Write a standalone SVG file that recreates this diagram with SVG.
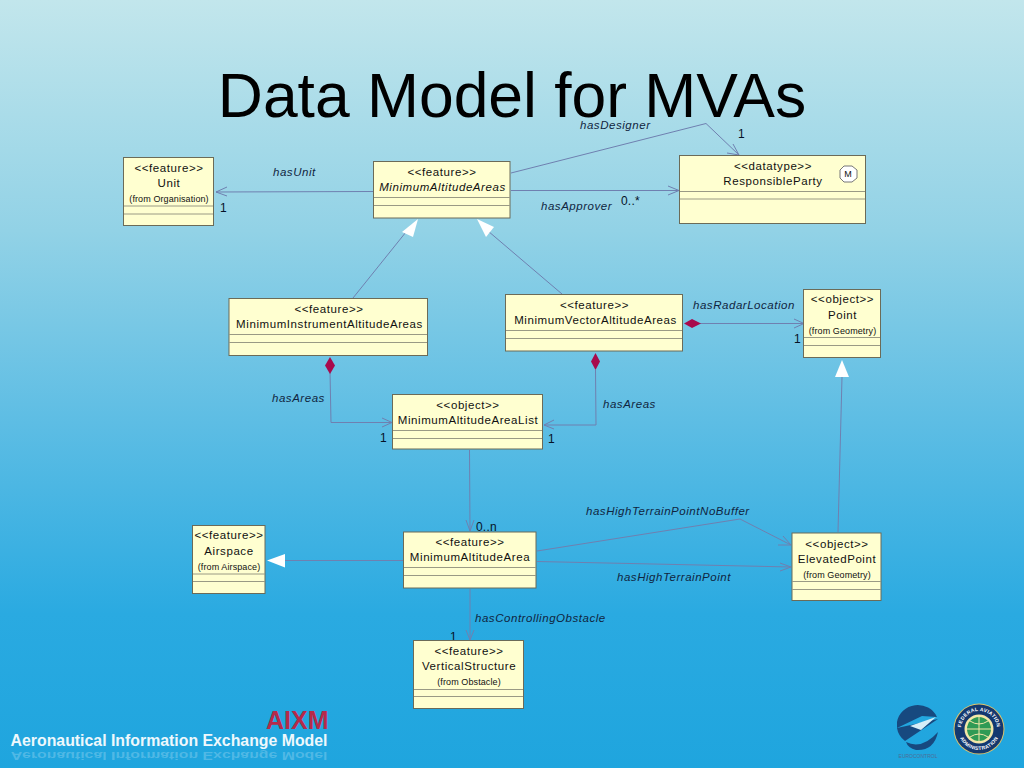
<svg xmlns="http://www.w3.org/2000/svg" width="1024" height="768" viewBox="0 0 1024 768">
<style>
text{font-family:"Liberation Sans",Arial,sans-serif;fill:#111}
.c{text-anchor:middle;font-size:11.500px;letter-spacing:.58px}
.f{text-anchor:middle;font-size:9px;letter-spacing:.1px}
.l{font-size:11.500px;font-style:italic;fill:#10253f;letter-spacing:.54px}
.m{font-size:12px;fill:#061226;letter-spacing:.2px}
.b{fill:#ffffd0;stroke:#6b6b58;stroke-width:1}
.d{stroke:#9a9a84;stroke-width:1;fill:none}
.e{fill:none;stroke:#6f80b0;stroke-width:1}
.w{fill:#fff;stroke:none}
.r{fill:#a80a4c;stroke:none}
</style>
<defs>
<linearGradient id="bg" x1="0" y1="0" x2="0" y2="1">
<stop offset="0" stop-color="#c2e6ec"/><stop offset=".3" stop-color="#92d2e6"/><stop offset=".55" stop-color="#5dbde4"/><stop offset=".8" stop-color="#2aaae1"/><stop offset="1" stop-color="#1fa5de"/>
</linearGradient>
<path id="ringT" d="M961 729a18 18 0 0 1 36 0"/>
<path id="ringB" d="M958 729a21 21 0 0 0 42 0"/>
</defs>
<rect width="1024" height="768" fill="url(#bg)"/>
<text x="512" y="117" text-anchor="middle" style="font-size:62.400px;fill:#000">Data Model for MVAs</text>

<g id="connectors">
<path class="e" d="M373 191.500L216 192M227 187L216 192L227 196"/>
<path class="e" d="M511 173L706 123.500L739 155M727 153L739 155L733 144"/>
<path class="e" d="M511 190.500L679 190.500M668 186L679 190.500L668 195"/>
<path class="e" d="M353 298L406 232"/>
<polygon class="w" points="418,219 413,237 402,232"/>
<path class="e" d="M562 294L488 231"/>
<polygon class="w" points="477,219 494,227 486,237"/>
<path class="e" d="M700 323.500L804 323.500M794 319L804 323.500L794 328"/>
<polygon class="r" points="684,323.500 692,319 701,323.500 692,328"/>
<path class="e" d="M330 372L331 422.500L392 422.500M382 418L392 422.500L382 427"/>
<polygon class="r" points="330,357 335,365.500 330,374 325,365.500"/>
<path class="e" d="M595.500 370L596 425L544 425M554 420L544 425L554 429"/>
<polygon class="r" points="595.500,353 600,361.500 595.500,370 591,361.500"/>
<path class="e" d="M842 377L838 532"/>
<polygon class="w" points="842,360 849,377 835,377"/>
<path class="e" d="M469.500 450L470 531M466 520L470 531L474 520"/>
<path class="e" d="M537 551L740 519L791 545M778 545L791 545L783 536"/>
<path class="e" d="M537 561.500L791 567M780 563L791 567L780 571"/>
<path class="e" d="M403 560.500L285 560.500"/>
<polygon class="w" points="267,560.500 285,554 285,567.500"/>
<path class="e" d="M470 589L470 640M466 630L470 640L474 630"/>
</g>

<g id="labels">
<text class="l" x="273" y="176">hasUnit</text>
<text class="l" x="580" y="129">hasDesigner</text>
<text class="l" x="541" y="210">hasApprover</text>
<text class="l" x="693" y="309">hasRadarLocation</text>
<text class="l" x="272" y="402">hasAreas</text>
<text class="l" x="603" y="408">hasAreas</text>
<text class="l" x="586" y="515">hasHighTerrainPointNoBuffer</text>
<text class="l" x="617" y="581">hasHighTerrainPoint</text>
<text class="l" x="475" y="622">hasControllingObstacle</text>
<text class="m" x="220" y="212">1</text>
<text class="m" x="738" y="138">1</text>
<text class="m" x="621" y="205">0..*</text>
<text class="m" x="794" y="343">1</text>
<text class="m" x="380" y="442">1</text>
<text class="m" x="548" y="443">1</text>
<text class="m" x="476" y="531">0..n</text>
<text class="m" x="450" y="641">1</text>
</g>

<g id="unit"><rect class="b" x="123.500" y="157.500" width="90" height="68"/><path class="d" d="M124 206H213M124 214H213"/><text class="c" x="169" y="172">&lt;&lt;feature&gt;&gt;</text><text class="c" x="169" y="187">Unit</text><text class="f" x="169" y="202">(from Organisation)</text></g>
<g id="minimum-altitude-areas"><rect class="b" x="373.500" y="161.500" width="136.500" height="56.500"/><path class="d" d="M374 197.500H510M374 205.500H510"/><text class="c" x="442" y="176">&lt;&lt;feature&gt;&gt;</text><text class="c" x="442.500" y="191" font-style="italic">MinimumAltitudeAreas</text></g>
<g id="responsible-party"><rect class="b" x="679.500" y="155.500" width="186" height="68"/><path class="d" d="M680 191.500H865M680 199H865"/><text class="c" x="773" y="170">&lt;&lt;datatype&gt;&gt;</text><text class="c" x="773" y="185">ResponsibleParty</text><polygon points="844,166 852,166 857,170 857,178 852,182 844,182 840,178 840,170" fill="#fff" stroke="#777"/><text x="848" y="177" text-anchor="middle" style="font-size:9px">M</text></g>
<g id="minimum-instrument-altitude-areas"><rect class="b" x="229" y="298.500" width="198.500" height="57"/><path class="d" d="M229 334.500H427M229 342.500H427"/><text class="c" x="329" y="313">&lt;&lt;feature&gt;&gt;</text><text class="c" x="329.500" y="328">MinimumInstrumentAltitudeAreas</text></g>
<g id="minimum-vector-altitude-areas"><rect class="b" x="505.500" y="294.500" width="177" height="56.500"/><path class="d" d="M506 330.500H682M506 338.500H682"/><text class="c" x="594.500" y="309">&lt;&lt;feature&gt;&gt;</text><text class="c" x="595.500" y="324">MinimumVectorAltitudeAreas</text></g>
<g id="point"><rect class="b" x="803.500" y="289.500" width="77" height="68"/><path class="d" d="M804 337.500H880M804 345.500H880"/><text class="c" x="842.500" y="303">&lt;&lt;object&gt;&gt;</text><text class="c" x="842.500" y="318.500">Point</text><text class="f" x="842.500" y="334">(from Geometry)</text></g>
<g id="minimum-altitude-area-list"><rect class="b" x="392.500" y="394.500" width="150" height="54.500"/><path class="d" d="M393 430.500H542M393 438.500H542"/><text class="c" x="468" y="409">&lt;&lt;object&gt;&gt;</text><text class="c" x="468" y="424">MinimumAltitudeAreaList</text></g>
<g id="minimum-altitude-area"><rect class="b" x="403.500" y="532" width="132.500" height="56"/><path class="d" d="M404 567.500H536M404 575.500H536"/><text class="c" x="470" y="546">&lt;&lt;feature&gt;&gt;</text><text class="c" x="470" y="561">MinimumAltitudeArea</text></g>
<g id="airspace"><rect class="b" x="192.500" y="525.500" width="72.500" height="68"/><path class="d" d="M193 574H265M193 581.500H265"/><text class="c" x="229" y="539">&lt;&lt;feature&gt;&gt;</text><text class="c" x="229" y="555">Airspace</text><text class="f" x="229" y="570">(from Airspace)</text></g>
<g id="vertical-structure"><rect class="b" x="413.500" y="640.500" width="110" height="68"/><path class="d" d="M414 689.500H523M414 696.500H523"/><text class="c" x="469" y="655">&lt;&lt;feature&gt;&gt;</text><text class="c" x="469" y="670">VerticalStructure</text><text class="f" x="469" y="685">(from Obstacle)</text></g>
<g id="elevated-point"><rect class="b" x="792" y="533" width="89" height="67.500"/><path class="d" d="M792 581.500H881M792 589.500H881"/><text class="c" x="837" y="548">&lt;&lt;object&gt;&gt;</text><text class="c" x="837" y="563">ElevatedPoint</text><text class="f" x="837" y="578">(from Geometry)</text></g>

<g id="branding">
<text x="328.500" y="728.500" text-anchor="end" style="font-size:25px;font-weight:bold;fill:#b52a4a">AIXM</text>
<text x="327.500" y="746" text-anchor="end" style="font-size:15.850px;font-weight:bold;fill:#eef8fc">Aeronautical Information Exchange Model</text>
<text transform="translate(0 1273.700) scale(1 -.7)" x="327.500" y="746" text-anchor="end" style="font-size:15.850px;font-weight:bold;fill:#fff;fill-opacity:.22">Aeronautical Information Exchange Model</text>
<g id="eurocontrol">
<path d="M937 717A21 20 0 0 0 897 722L897 728L922 716L937 717Z" fill="#17497f"/>
<path d="M897 728L938 719L905 741A21 20 0 0 1 897 728Z" fill="#17497f"/>
<path d="M910 726L936 717L921 730Z" fill="#d5eef8"/>
<path d="M906 742Q922 750 938 732Q934 751 916 750Q908 748 906 742Z" fill="#17497f"/>
<text x="918" y="757.500" text-anchor="middle" style="font-size:5px;fill:#4c6f97">EUROCONTROL</text>
</g>
<g id="faa">
<circle cx="979" cy="729" r="25.500" fill="#dcc46c"/>
<circle cx="979" cy="729" r="24.500" fill="#14386f"/>
<circle cx="979" cy="729" r="14.500" fill="#f3e7a8"/>
<circle cx="979" cy="729" r="12" fill="#2f9a55"/>
<path d="M967 729H991M979 717V741M970 721Q979 727 988 721M970 737Q979 731 988 737" fill="none" stroke="#f3e7a8" stroke-width="1"/>
<text style="font-size:5px;fill:#fff;letter-spacing:.3px;font-weight:bold" text-anchor="middle"><textPath href="#ringT" startOffset="50%">FEDERAL AVIATION</textPath></text>
<text style="font-size:5px;fill:#fff;letter-spacing:.3px;font-weight:bold" text-anchor="middle"><textPath href="#ringB" startOffset="50%">ADMINISTRATION</textPath></text>
</g>
</g>
</svg>
